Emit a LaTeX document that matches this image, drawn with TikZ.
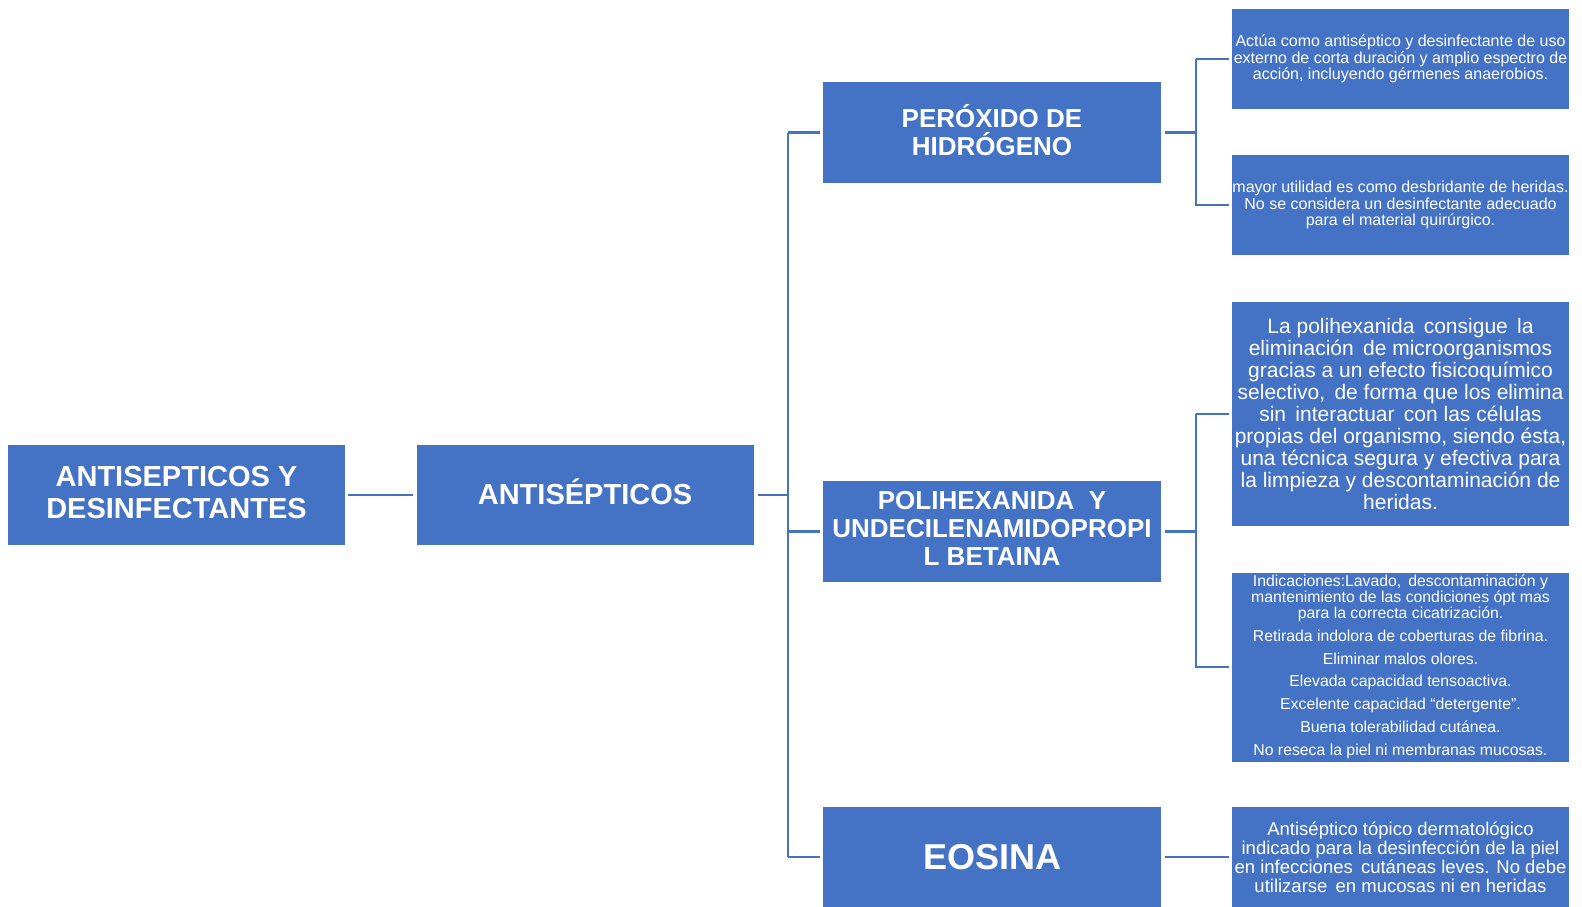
\documentclass[tikz,border=0pt]{standalone}
\usepackage{fontspec}
\setmainfont{Liberation Sans}
\usepackage{tikz}
\usetikzlibrary{calc}
\definecolor{boxblue}{HTML}{4472C4}
\tikzset{
  box/.style={fill=boxblue, text=white, minimum width=337pt, minimum height=100pt, inner sep=0pt, align=center, font=\bfseries\fontsize{29}{32}\selectfont},
  head/.style={box, minimum width=338pt, minimum height=101pt, font=\bfseries\fontsize{26}{28}\selectfont},
  note/.style={box, font=\fontsize{16}{16.5}\selectfont},
  link/.style={draw=boxblue, line width=2.4pt},
}

\begin{document}
\begin{tikzpicture}[x=1pt,y=-1pt]
			%%%%% START %%%%%
			\useasboundingbox (0,0) rectangle (1582,906);
			
			% main column
			\node[box] (root) at (176.5, 495) {ANTISEPTICOS Y\\DESINFECTANTES\vphantom{p}};
			\node[box] (anti) at (585, 495) {ANTISÉPTICOS\vphantom{p}};
			
			\node[head] (perox) at (992, 132.5) {PERÓXIDO DE\\HIDRÓGENO\vphantom{p}};
			\node[head] (polih) at (992, 531.5) {POLIHEXANIDA \ Y\\UNDECILENAMIDOPROPI\\L BETAINA\vphantom{p}};
			\node[box, minimum width=338pt, font=\bfseries\fontsize{36}{40}\selectfont] (eosina) at (992, 857) {EOSINA};
			
			% notes
			\node[note] (perA) at (1400.5, 59) {Actúa como antiséptico y desinfectante de uso\\externo de corta duración y amplio espectro de\\acción, incluyendo gérmenes anaerobios.\vphantom{p}};
			\node[note] (perB) at (1400.5, 205) {mayor utilidad es como desbridante de heridas.\\No se considera un desinfectante adecuado\\para el material quirúrgico.};
			\node[note, minimum height=224pt, font=\fontsize{21}{22}\selectfont] (polA) at (1400.5, 414) {La polihexanida \,consigue \,la\\eliminación \,de microorganismos\\gracias a un efecto fisicoquímico\\selectivo, \,de forma que los elimina\\sin \,interactuar \,con las células\\propias del organismo, siendo ésta,\\una técnica segura y efectiva para\\la limpieza y descontaminación de\\heridas.};
			\node[note, minimum height=189pt, font=\fontsize{15.8}{15.8}\selectfont] (polB) at (1400.5, 667) {Indicaciones:Lavado, \,descontaminación y\\mantenimiento de las condiciones ópt mas\\para la correcta cicatrización.\\[7pt]Retirada indolora de coberturas de fibrina.\\[7pt]Eliminar malos olores.\\[7pt]Elevada capacidad tensoactiva.\\[7pt]Excelente capacidad “detergente”.\\[7pt]Buena tolerabilidad cutánea.\\[7pt]No reseca la piel ni membranas mucosas.};
			\node[note, font=\fontsize{18.5}{19}\selectfont] (eosA) at (1400.5, 857) {Antiséptico tópico dermatológico\\indicado para la desinfección de la piel\\en infecciones \,cutáneas leves. No debe\\utilizarse \,en mucosas ni en heridas};
			
			% connectors
			\draw[link, shorten <=3pt, shorten >=3pt] (root.east) -- (anti.west);
			
			\coordinate (trunk) at (788, 0);
			\draw[link, shorten <=4pt] (anti.east) -- (anti.east -| trunk);
			\draw[link, shorten >=3pt] (perox.west) ++(-35,0) -- (perox.west);
			\draw[link] (perox.west -| trunk) -- (eosina.west -| trunk);
			\draw[link, shorten >=3pt] (polih.west -| trunk) -- (polih.west);
			\draw[link, shorten >=3pt] (eosina.west -| trunk) -- (eosina.west);
			
			\coordinate (fork) at (1196, 0);
			\draw[link, shorten <=4pt] (perox.east) -- (perox.east -| fork);
			\draw[link, shorten >=3pt] (perA.west -| fork) -- (perB.west -| fork) -- (perB.west);
			\draw[link, shorten >=3pt] (perA.west -| fork) -- (perA.west);
			
			\draw[link, shorten <=4pt] (polih.east) -- (polih.east -| fork);
			\draw[link, shorten >=3pt] (polA.west -| fork) -- (polB.west -| fork) -- (polB.west);
			\draw[link, shorten >=3pt] (polA.west -| fork) -- (polA.west);
			
			\draw[link, shorten <=4pt, shorten >=3pt] (eosina.east) -- (eosA.west);
			%%%%% END %%%%%
\end{tikzpicture}
\end{document}
